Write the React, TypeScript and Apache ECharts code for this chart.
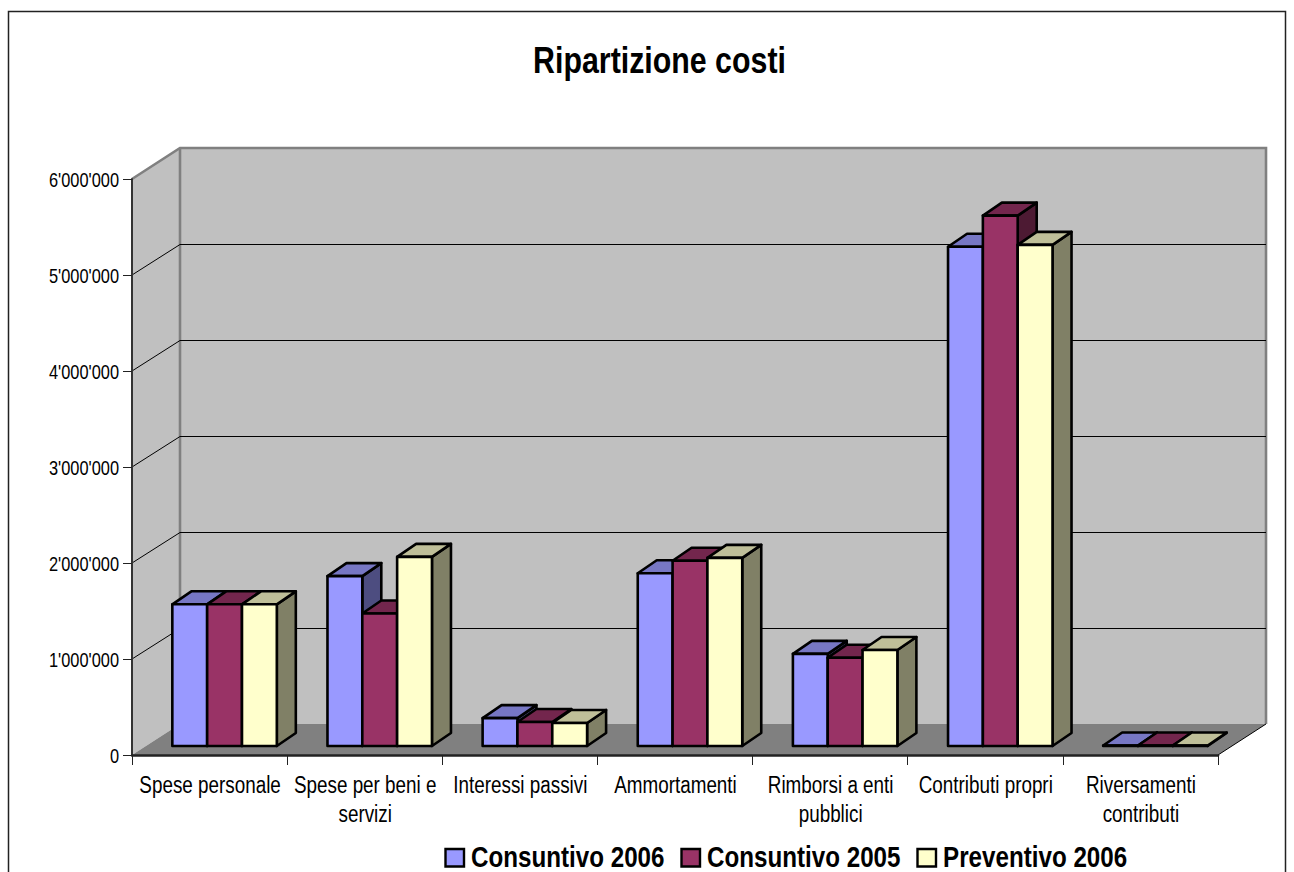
import React, { useEffect, useRef } from "react";
import * as echarts from "echarts";

const categories = [
  "Spese personale",
  "Spese per beni e\nservizi",
  "Interessi passivi",
  "Ammortamenti",
  "Rimborsi a enti\npubblici",
  "Contributi propri",
  "Riversamenti\ncontributi",
];
const consuntivo2006 = [1476000, 1770000, 290000, 1800000, 960000, 5200000, 5000];
const consuntivo2005 = [1476000, 1380000, 250000, 1930000, 920000, 5525000, 5000];
const preventivo2006 = [1476000, 1970000, 240000, 1960000, 1000000, 5220000, 5000];
const gridValues = [1000000, 2000000, 3000000, 4000000, 5000000];
const tickValues = [0, 1000000, 2000000, 3000000, 4000000, 5000000, 6000000];
const seriesNames = ["Consuntivo 2006", "Consuntivo 2005", "Preventivo 2006"];
const chartTitle = "Ripartizione costi";

const FONT = "'Liberation Sans', Arial, sans-serif";
const NARROW = 0.82;
const WALL_DX = 48;
const WALL_DY = 31;
const BAR_SHIFT_X = 15;
const BAR_SHIFT_Y = 9;
const BAR_DEPTH_X = 19;
const BAR_DEPTH_Y = 13;
const FRONT = ["#9999FF", "#993366", "#FFFFCC"];
const TOP = ["#7777C4", "#73264D", "#BFBF99"];
const SIDE = ["#4D4D80", "#4D1A33", "#808066"];
const LEGEND_ICON_X = [445.5, 681.5, 917.5];
const LEGEND_TEXT_X = [471, 707, 943];

const tickLabel = (v: number) => String(v).replace(/\B(?=(\d{3})+$)/g, "'");

function barSeries(name: string, values: number[], pos: number) {
  return {
    type: "custom",
    name,
    itemStyle: { color: FRONT[pos] },
    data: values.map((v, i) => [i, v]),
    z: 5,
    clip: false,
    silent: true,
    renderItem: (_p: any, api: any) => {
      const i = api.value(0);
      const c = api.coord([i, api.value(1)]);
      const b = api.coord([i, 0]);
      const band = api.size([1, 0])[0];
      const w = band * 0.2245;
      const x0 = c[0] + BAR_SHIFT_X - 1.5 * w + pos * w;
      const x1 = x0 + w;
      const yT = c[1] - BAR_SHIFT_Y;
      const yB = b[1] - BAR_SHIFT_Y;
      const stroke = { stroke: "#000", lineWidth: 2.6, lineJoin: "round" };
      const poly = (points: number[][], fill: string) => ({
        type: "polygon",
        shape: { points },
        style: { fill, ...stroke },
      });
      return {
        type: "group",
        children: [
          poly([[x1, yT], [x1 + BAR_DEPTH_X, yT - BAR_DEPTH_Y], [x1 + BAR_DEPTH_X, yB - BAR_DEPTH_Y], [x1, yB]], SIDE[pos]),
          poly([[x0, yT], [x0 + BAR_DEPTH_X, yT - BAR_DEPTH_Y], [x1 + BAR_DEPTH_X, yT - BAR_DEPTH_Y], [x1, yT]], TOP[pos]),
          poly([[x0, yT], [x1, yT], [x1, yB], [x0, yB]], FRONT[pos]),
        ],
      };
    },
  };
}

export default function App() {
  const ref = useRef<HTMLDivElement>(null);
  useEffect(() => {
    document.body.style.margin = "0";
    const chart = echarts.init(ref.current!, undefined, { renderer: "svg" });
    chart.setOption({
      animation: false,
      backgroundColor: "#fff",
      textStyle: { fontFamily: FONT },
      grid: { left: 132, top: 179, width: 1086, height: 576 },
      xAxis: {
        type: "category",
        data: categories,
        z: 8,
        axisLine: { lineStyle: { color: "#222", width: 2.5 } },
        axisTick: { show: true, length: 10, lineStyle: { color: "#222", width: 1 } },
        axisLabel: { show: false },
      },
      yAxis: {
        type: "value",
        min: 0,
        max: 6000000,
        interval: 1000000,
        z: 8,
        splitLine: { show: false },
        axisLine: { show: true, lineStyle: { color: "#333", width: 2 } },
        axisTick: { show: true, length: 9, lineStyle: { color: "#222", width: 1 } },
        axisLabel: { show: false },
      },
      series: [
        {
          type: "custom",
          name: "pareti",
          silent: true,
          z: 1,
          clip: false,
          data: [[0, 6000000]],
          renderItem: (p: any, api: any) => {
            const yTop = api.coord([0, api.value(1)])[1];
            const yBot = api.coord([0, 0])[1];
            const xL = p.coordSys.x;
            const xR = xL + p.coordSys.width;
            const edge = { stroke: "#808080", lineWidth: 2.6 };
            return {
              type: "group",
              children: [
                { type: "polygon", shape: { points: [[xL, yTop], [xL + WALL_DX, yTop - WALL_DY], [xL + WALL_DX, yBot - WALL_DY], [xL, yBot]] }, style: { fill: "#C0C0C0" } },
                { type: "rect", shape: { x: xL + WALL_DX, y: yTop - WALL_DY, width: xR - xL, height: yBot - yTop }, style: { fill: "#C0C0C0" } },
                { type: "polygon", shape: { points: [[xL, yBot], [xL + WALL_DX, yBot - WALL_DY], [xR + WALL_DX, yBot - WALL_DY], [xR, yBot]] }, style: { fill: "#808080" } },
                { type: "polyline", shape: { points: [[xL, yTop], [xL + WALL_DX, yTop - WALL_DY], [xR + WALL_DX, yTop - WALL_DY], [xR + WALL_DX, yBot - WALL_DY]] }, style: { fill: "none", ...edge } },
                { type: "line", shape: { x1: xL + WALL_DX, y1: yTop - WALL_DY, x2: xL + WALL_DX, y2: yBot - WALL_DY }, style: edge },
                { type: "line", shape: { x1: xR + WALL_DX, y1: yBot - WALL_DY, x2: xR, y2: yBot }, style: { stroke: "#000", lineWidth: 1 } },
              ],
            };
          },
        },
        {
          type: "custom",
          name: "griglia",
          silent: true,
          z: 2,
          clip: false,
          data: gridValues.map((v) => [0, v]),
          renderItem: (p: any, api: any) => {
            const y = api.coord([0, api.value(1)])[1];
            const xL = p.coordSys.x;
            const xR = xL + p.coordSys.width;
            return {
              type: "polyline",
              shape: { points: [[xL, y], [xL + WALL_DX, y - WALL_DY + 0.5], [xR + WALL_DX, y - WALL_DY + 0.5]] },
              style: { fill: "none", stroke: "#000", lineWidth: 1 },
            };
          },
        },
        barSeries(seriesNames[0], consuntivo2006, 0),
        barSeries(seriesNames[1], consuntivo2005, 1),
        barSeries(seriesNames[2], preventivo2006, 2),
        {
          type: "custom",
          name: "etichette categorie",
          silent: true,
          z: 9,
          clip: false,
          data: categories.map((_c, i) => [i, 0]),
          renderItem: (_p: any, api: any) => {
            const i = api.value(0);
            const c = api.coord([i, 0]);
            return {
              type: "text",
              x: c[0] + 0.5,
              y: c[1] + 15.5,
              scaleX: NARROW,
              style: {
                text: categories[i],
                fill: "#000",
                font: `23px ${FONT}`,
                align: "center",
                verticalAlign: "top",
                lineHeight: 29,
              },
            };
          },
        },
        {
          type: "custom",
          name: "etichette valori",
          silent: true,
          z: 9,
          clip: false,
          data: tickValues.map((v) => [0, v]),
          renderItem: (p: any, api: any) => {
            const v = api.value(1);
            const y = api.coord([0, v])[1];
            return {
              type: "text",
              x: p.coordSys.x - 13,
              y: y + 1,
              scaleX: NARROW,
              style: {
                text: tickLabel(v),
                fill: "#000",
                font: `20px ${FONT}`,
                align: "right",
                verticalAlign: "middle",
              },
            };
          },
        },
      ],
      graphic: [
        {
          type: "rect",
          silent: true,
          shape: { x: 8.5, y: 11.5, width: 1277, height: 900 },
          style: { fill: "none", stroke: "#222", lineWidth: 1.5 },
        },
        {
          type: "text",
          silent: true,
          x: 659.5,
          y: 60,
          scaleX: NARROW,
          style: {
            text: chartTitle,
            fill: "#000",
            font: `bold 37px ${FONT}`,
            align: "center",
            verticalAlign: "middle",
          },
        },
        ...seriesNames.flatMap((name, i) => [
          {
            type: "rect",
            silent: true,
            shape: { x: LEGEND_ICON_X[i], y: 849, width: 18.5, height: 17.5 },
            style: { fill: FRONT[i], stroke: "#000", lineWidth: 2.4 },
          },
          {
            type: "text",
            silent: true,
            x: LEGEND_TEXT_X[i],
            y: 857,
            scaleX: NARROW,
            style: {
              text: name,
              fill: "#000",
              font: `bold 29.5px ${FONT}`,
              align: "left",
              verticalAlign: "middle",
            },
          },
        ]),
      ],
    });
    return () => chart.dispose();
  }, []);
  return <div ref={ref} style={{ position: "absolute", left: 0, top: 0, width: 1294, height: 872, overflow: "hidden" }} />;
}
